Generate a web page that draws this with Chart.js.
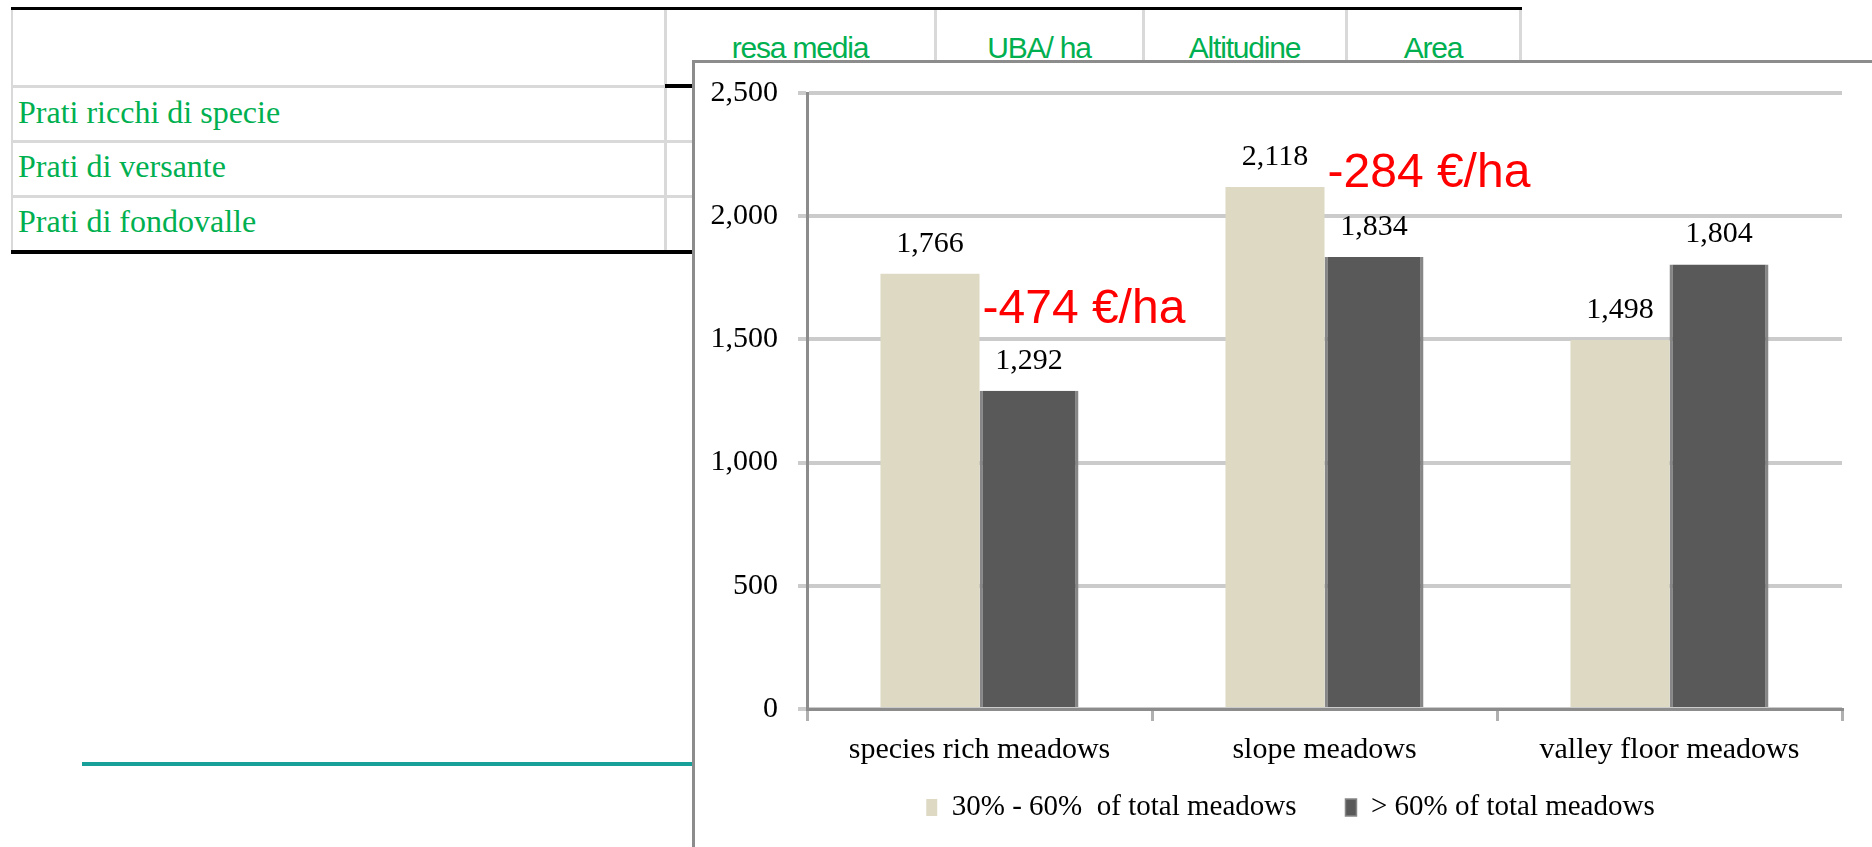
<!DOCTYPE html>
<html lang="it">
<head>
    <meta charset="UTF-8">
    <title>Resa media prati</title>
    <script src="https://cdn.jsdelivr.net/npm/chart.js@4"></script>
    <style>
        html, body {
            margin: 0;
            padding: 0;
            width: 1872px;
            height: 847px;
            overflow: hidden;
            background: #fff;
        }
        .ln { position: absolute; }
        .hd {
            position: absolute;
            top: 33px;
            line-height: 30px;
            font-family: "Liberation Sans", Arial, sans-serif;
            font-size: 30px;
            letter-spacing: -1.2px;
            color: #00b050;
            text-align: center;
            white-space: nowrap;
        }
        .rw {
            position: absolute;
            left: 18px;
            line-height: 32px;
            font-family: "Liberation Serif", "Times New Roman", serif;
            font-size: 32px;
            color: #00b050;
            white-space: nowrap;
        }
        .chart-box {
            position: absolute;
            left: 692px;
            top: 60px;
            width: 1177px;
            height: 784px;
            border-left: 3px solid #8c8c8c;
            border-top: 3px solid #8c8c8c;
            background: #fff;
        }
    </style>
</head>
<body>
    <!-- table behind the chart -->
    <div class="ln" style="left:11px;top:7px;width:1511px;height:3px;background:#000"></div>
    <div class="ln" style="left:11px;top:10px;width:2px;height:242px;background:#d9d9d9"></div>
    <div class="ln" style="left:664px;top:10px;width:3px;height:242px;background:#d9d9d9"></div>
    <div class="ln" style="left:934px;top:10px;width:3px;height:60px;background:#d9d9d9"></div>
    <div class="ln" style="left:1142px;top:10px;width:3px;height:60px;background:#d9d9d9"></div>
    <div class="ln" style="left:1345px;top:10px;width:3px;height:60px;background:#d9d9d9"></div>
    <div class="ln" style="left:1519px;top:10px;width:3px;height:60px;background:#d9d9d9"></div>
    <div class="ln" style="left:11px;top:85px;width:654px;height:3px;background:#d9d9d9"></div>
    <div class="ln" style="left:665px;top:84px;width:100px;height:4px;background:#000"></div>
    <div class="ln" style="left:11px;top:140px;width:700px;height:3px;background:#d9d9d9"></div>
    <div class="ln" style="left:11px;top:195px;width:700px;height:3px;background:#d9d9d9"></div>
    <div class="ln" style="left:11px;top:250px;width:700px;height:4px;background:#000"></div>
    <div class="ln" style="left:82px;top:762px;width:612px;height:4px;background:#17a09a"></div>

    <div class="hd" style="left:665px;width:270px">resa media</div>
    <div class="hd" style="left:935px;width:208px">UBA/ ha</div>
    <div class="hd" style="left:1143px;width:203px">Altitudine</div>
    <div class="hd" style="left:1346px;width:174px">Area</div>

    <div class="rw" style="top:96px">Prati ricchi di specie</div>
    <div class="rw" style="top:150px">Prati di versante</div>
    <div class="rw" style="top:205px">Prati di fondovalle</div>

    <!-- chart -->
    <div class="chart-box">
        <div style="position:relative;width:1177px;height:784px">
            <canvas id="yieldChart"></canvas>
        </div>
    </div>

    <script>
        // data
        const categories = ['species rich meadows', 'slope meadows', 'valley floor meadows'];
        const seriesLabels = ['30% - 60%  of total meadows', '> 60% of total meadows'];
        const share30to60 = [1766, 2118, 1498];
        const shareOver60 = [1292, 1834, 1804];
        const yTicks = [0, 500, 1000, 1500, 2000, 2500];

        // red difference notes: which category, and the value their baseline sits at
        const gapCategories = [0, 1];
        const gapBaseline = [1567, 2118];

        const serif = '"Liberation Serif", "Times New Roman", serif';

        // value above each bar
        const valueLabels = {
            id: 'valueLabels',
            afterDatasetsDraw(chart) {
                const ctx = chart.ctx;
                ctx.save();
                ctx.font = '30px ' + serif;
                ctx.fillStyle = '#000';
                ctx.textAlign = 'center';
                ctx.textBaseline = 'middle';
                chart.data.datasets.forEach((ds, i) => {
                    chart.getDatasetMeta(i).data.forEach((bar, j) => {
                        ctx.fillText(ds.data[j].toLocaleString('en-US'), bar.x, bar.y - 30);
                    });
                });
                ctx.restore();
            }
        };

        // "-474 €/ha" style notes next to the first bar of a group
        const gapLabels = {
            id: 'gapLabels',
            afterDatasetsDraw(chart) {
                const ctx = chart.ctx;
                const y = chart.scales.y;
                const lightBars = chart.getDatasetMeta(0).data;
                ctx.save();
                ctx.font = '48px "Liberation Sans", Arial, sans-serif';
                ctx.fillStyle = '#ff0000';
                ctx.textAlign = 'left';
                ctx.textBaseline = 'alphabetic';
                gapCategories.forEach((c, k) => {
                    const bar = lightBars[c];
                    const diff = shareOver60[c] - share30to60[c];
                    ctx.fillText(diff + ' €/ha', bar.x + bar.width / 2 + 3, y.getPixelForValue(gapBaseline[k]));
                });
                ctx.restore();
            }
        };

        // the legend sits a little right of the canvas centre in the original
        const legendShift = {
            id: 'legendShift',
            afterLayout(chart) {
                chart.legend.left += 22;
                chart.legend.right += 22;
            }
        };

        new Chart(document.getElementById('yieldChart'), {
            type: 'bar',
            data: {
                labels: categories,
                datasets: [{
                    label: seriesLabels[0],
                    data: share30to60,
                    backgroundColor: '#ddd9c3',
                    borderColor: '#e8e5d6',
                    borderWidth: 0
                }, {
                    label: seriesLabels[1],
                    data: shareOver60,
                    backgroundColor: '#595959',
                    borderColor: '#868686',
                    borderWidth: { top: 0, left: 3, right: 3, bottom: 0 }
                }]
            },
            options: {
                responsive: true,
                maintainAspectRatio: false,
                animation: false,
                locale: 'en-US',
                datasets: {
                    bar: { categoryPercentage: 0.574, barPercentage: 1.0 }
                },
                layout: {
                    padding: { top: 30, right: 30, bottom: 15, left: 0 }
                },
                plugins: {
                    tooltip: { enabled: false },
                    legend: {
                        position: 'bottom',
                        labels: {
                            boxWidth: 11,
                            boxHeight: 17,
                            padding: 20,
                            color: '#000',
                            font: { family: serif, size: 29 },
                            // wider gap between the two items than labels.padding allows
                            generateLabels: chart => {
                                const items = Chart.defaults.plugins.legend.labels.generateLabels(chart);
                                items.forEach((it, i) => { if (i < items.length - 1) it.text += '    '; });
                                return items;
                            }
                        }
                    }
                },
                scales: {
                    x: {
                        grid: {
                            display: true,
                            drawOnChartArea: false,
                            tickLength: 12,
                            color: '#b0b0b0',
                            lineWidth: 3
                        },
                        border: { color: '#8c8c8c', width: 3 },
                        ticks: {
                            color: '#000',
                            padding: 11,
                            maxRotation: 0,
                            autoSkip: false,
                            font: { family: serif, size: 30 }
                        },
                        afterFit: s => { s.height = 64; }
                    },
                    y: {
                        min: 0,
                        max: 2500,
                        afterBuildTicks: s => { s.ticks = yTicks.map(v => ({ value: v })); },
                        grid: {
                            color: '#cbcbcb',
                            lineWidth: 4,
                            tickLength: 9
                        },
                        border: { color: '#8c8c8c', width: 3 },
                        ticks: {
                            color: '#000',
                            padding: 20,
                            font: { family: serif, size: 30, lineHeight: 0.6 }
                        },
                        afterFit: s => { s.width = 112; }
                    }
                }
            },
            plugins: [valueLabels, gapLabels, legendShift]
        });
    </script>
</body>
</html>
